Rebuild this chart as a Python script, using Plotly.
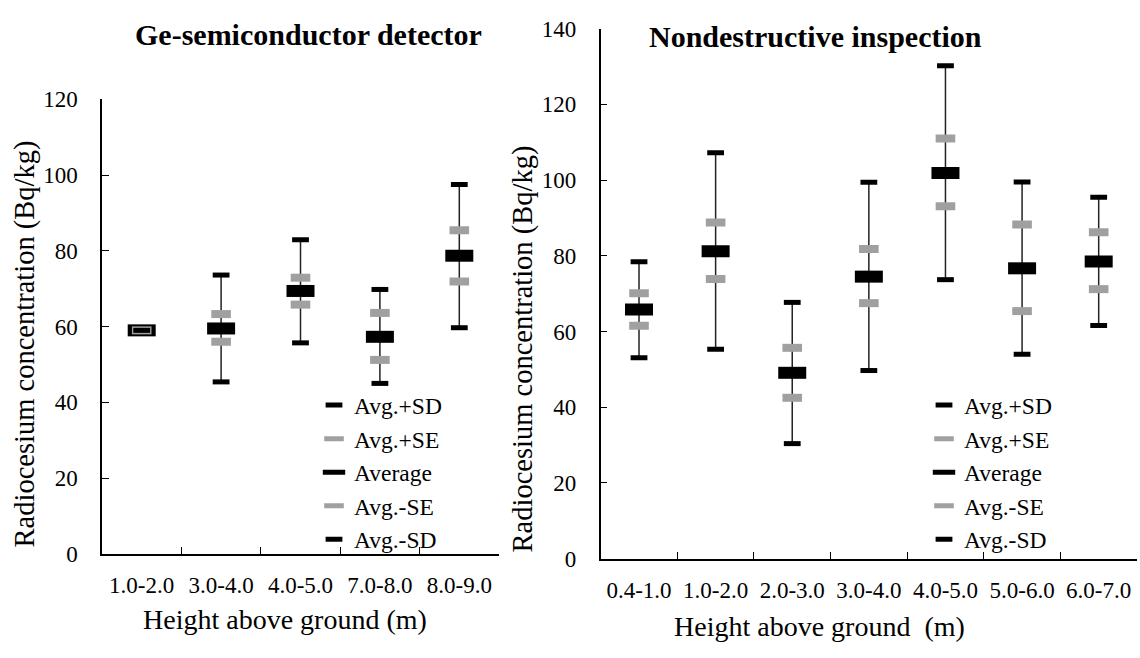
import plotly.graph_objects as go

# ---- data: Ge-semiconductor detector ----
ge_cats = ["1.0-2.0", "3.0-4.0", "4.0-5.0", "7.0-8.0", "8.0-9.0"]
ge_sd_plus = [59.0, 73.6, 82.9, 69.8, 97.5]
ge_se_plus = [59.0, 63.3, 72.9, 63.6, 85.4]
ge_avg = [59.0, 59.5, 69.4, 57.3, 78.7]
ge_se_minus = [59.0, 56.0, 65.8, 51.2, 71.9]
ge_sd_minus = [59.0, 45.4, 55.7, 45.0, 59.7]

# ---- data: Nondestructive inspection ----
nd_cats = ["0.4-1.0", "1.0-2.0", "2.0-3.0", "3.0-4.0", "4.0-5.0", "5.0-6.0", "6.0-7.0"]
nd_sd_plus = [78.4, 107.2, 67.7, 99.4, 130.2, 99.5, 95.5]
nd_se_plus = [70.1, 88.8, 55.7, 81.8, 111.0, 88.3, 86.2]
nd_avg = [65.8, 81.2, 49.1, 74.5, 101.9, 76.7, 78.5]
nd_se_minus = [61.5, 73.9, 42.5, 67.5, 93.1, 65.4, 71.2]
nd_sd_minus = [53.1, 55.3, 30.4, 49.7, 73.7, 54.0, 61.6]

W, H = 1140, 658
FONT = "Times New Roman, Liberation Serif, DejaVu Serif, serif"

fig = go.Figure()


def add_panel(cats, sdp, sep, avg, sem, sdm, xa, ya, legend):
    fig.add_trace(go.Scatter(
        x=cats, y=avg, mode="markers",
        marker=dict(size=1, opacity=0),
        error_y=dict(type="data", symmetric=False,
                     array=[p - a for p, a in zip(sdp, avg)],
                     arrayminus=[a - m for a, m in zip(avg, sdm)],
                     width=0, thickness=1.5, color="#222222"),
        showlegend=False, hoverinfo="skip", xaxis=xa, yaxis=ya))
    specs = [("Avg.+SD", sdp, "#000000", 12, 5),
             ("Avg.+SE", sep, "#a0a0a0", 14, 8),
             ("Average", avg, "#000000", 20, 12),
             ("Avg.-SE", sem, "#a0a0a0", 14, 8),
             ("Avg.-SD", sdm, "#000000", 12, 5)]
    for name, vals, col, size, lw in specs:
        fig.add_trace(go.Scatter(
            x=cats, y=vals, mode="markers", name=name,
            marker=dict(symbol="line-ew", size=size, color=col,
                        line=dict(color=col, width=lw)),
            xaxis=xa, yaxis=ya, legend=legend))


add_panel(ge_cats, ge_sd_plus, ge_se_plus, ge_avg, ge_se_minus, ge_sd_minus, "x", "y", "legend")
add_panel(nd_cats, nd_sd_plus, nd_se_plus, nd_avg, nd_se_minus, nd_sd_minus, "x2", "y2", "legend2")

axis_common = dict(showline=True, linecolor="black", linewidth=1.5, showgrid=False,
                   zeroline=False, ticks="inside", ticklen=7, tickcolor="black",
                   tickwidth=1.2, tickfont=dict(family=FONT, size=23, color="black"))

fig.update_layout(
    width=W, height=H, margin=dict(l=0, r=0, t=0, b=0),
    paper_bgcolor="white", plot_bgcolor="white",
    font=dict(family=FONT, color="black"),
    xaxis=dict(domain=[102 / W, 499 / W], anchor="y", type="category",
               range=[-0.5, 4.5], tickson="boundaries", ticklabelstandoff=10, **axis_common),
    yaxis=dict(domain=[1 - 563.3 / H, 1 - 90.7 / H], anchor="x", range=[0, 120],
               dtick=20, ticklabelstandoff=18, **axis_common),
    xaxis2=dict(domain=[600.7 / W, 1137 / W], anchor="y2", type="category",
                range=[-0.5, 6.5], tickson="boundaries", ticklabelstandoff=10, **axis_common),
    yaxis2=dict(domain=[1 - 568.3 / H, 1 - 17.3 / H], anchor="x2", range=[0, 140],
                dtick=20, ticklabelstandoff=18, **axis_common),
    legend=dict(x=314 / W, y=1 - 386 / H, xanchor="left", yanchor="top",
                bgcolor="rgba(0,0,0,0)", font=dict(family=FONT, size=23.5, color="black"),
                itemwidth=30),
    legend2=dict(x=924 / W, y=1 - 386 / H, xanchor="left", yanchor="top",
                 bgcolor="rgba(0,0,0,0)", font=dict(family=FONT, size=23.5, color="black"),
                 itemwidth=30),
    showlegend=True,
)

ann = [
    dict(text="<b>Ge-semiconductor detector</b>", x=308 / W, y=1 - 23 / H, size=30, angle=0),
    dict(text="<b>Nondestructive inspection</b>", x=815 / W, y=1 - 25 / H, size=30, angle=0),
    dict(text="Height above ground (m)", x=284.5 / W, y=1 - 631.7 / H, size=28, angle=0),
    dict(text="Height above ground\u00a0\u00a0(m)", x=819.6 / W, y=1 - 638.3 / H, size=28, angle=0),
    dict(text="Radiocesium concentration (Bq/kg)", x=24.5 / W, y=1 - 345 / H, size=28.5, angle=-90),
    dict(text="Radiocesium concentration (Bq/kg)", x=522.7 / W, y=1 - 350 / H, size=28.5, angle=-90),
]
for a in ann:
    fig.add_annotation(text=a["text"], x=a["x"], y=a["y"], xref="paper", yref="paper",
                       xanchor="center", yanchor="middle", showarrow=False,
                       textangle=a["angle"],
                       font=dict(family=FONT, size=a["size"], color="black"))

fig.write_html("out.html")
